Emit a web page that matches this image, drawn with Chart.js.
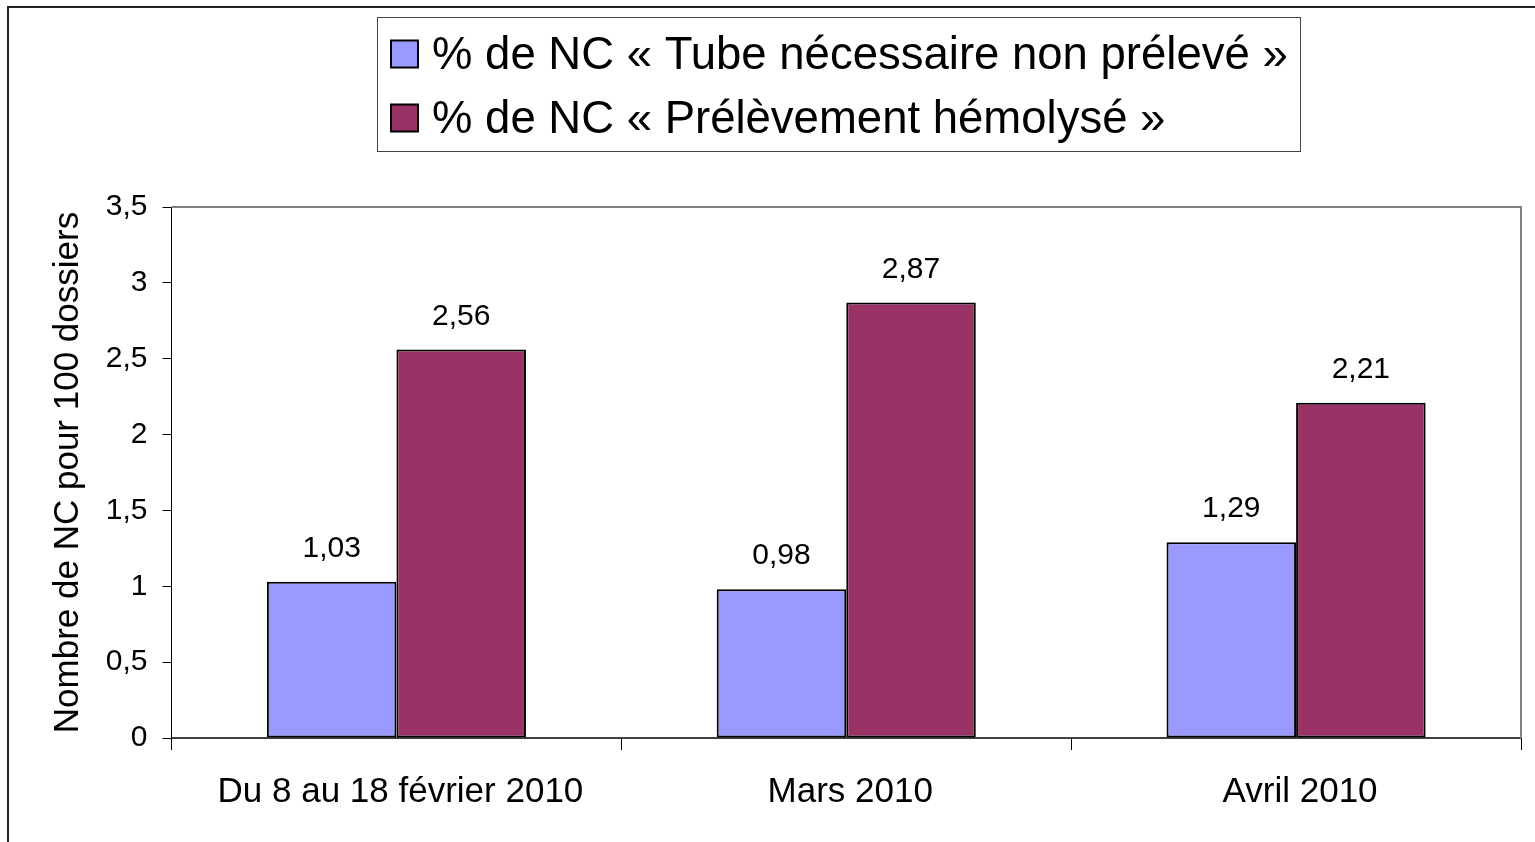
<!DOCTYPE html>
<html>
<head>
<meta charset="utf-8">
<script src="https://cdn.jsdelivr.net/npm/chart.js@4/dist/chart.umd.min.js"></script>
<style>
  html, body { margin: 0; padding: 0; background: #fff; overflow: hidden; }
  #wrap { position: absolute; left: 0; top: 0; width: 1535px; height: 842px; }
</style>
</head>
<body>
<div id="wrap"><canvas id="chart" width="1535" height="842"></canvas></div>
<script>
// Chart data
const categories = ['Du 8 au 18 février 2010', 'Mars 2010', 'Avril 2010'];
const seriesNames = ['% de NC « Tube nécessaire non prélevé »', '% de NC « Prélèvement hémolysé »'];
const tubeValues = [1.03, 0.98, 1.29];
const hemolyseValues = [2.56, 2.87, 2.21];
const yTicks = [0, 0.5, 1, 1.5, 2, 2.5, 3, 3.5];
const seriesColors = ['#9999FF', '#993366'];

const FONT = '"Liberation Sans", Arial, sans-serif';

function frNum(v) {
    return String(v).replace('.', ',');
}

// Outer frame + grey top/right plot border
const framePlugin = {
    id: 'frame',
    beforeDraw(chart) {
        const ctx = chart.ctx;
        ctx.save();
        ctx.strokeStyle = '#222';
        ctx.lineWidth = 2;
        ctx.strokeRect(8, 7, 1700, 1000);
        ctx.restore();
    },
    afterDraw(chart) {
        const a = chart.chartArea;
        const ctx = chart.ctx;
        ctx.save();
        ctx.strokeStyle = '#808080';
        ctx.lineWidth = 2;
        ctx.beginPath();
        ctx.moveTo(a.left, a.top);
        ctx.lineTo(a.right, a.top);
        ctx.lineTo(a.right, a.bottom);
        ctx.stroke();
        ctx.restore();
    }
};

// Value labels above the bars
const valueLabels = {
    id: 'valueLabels',
    afterDatasetsDraw(chart) {
        const ctx = chart.ctx;
        ctx.save();
        ctx.font = '30px ' + FONT;
        ctx.fillStyle = '#000';
        ctx.textAlign = 'center';
        ctx.textBaseline = 'alphabetic';
        chart.data.datasets.forEach((ds, i) => {
            chart.getDatasetMeta(i).data.forEach((bar, j) => {
                ctx.fillText(frNum(ds.data[j]), bar.x, bar.y - 25);
            });
        });
        ctx.restore();
    }
};

// Boxed legend, two lines, left aligned
const boxLegend = {
    id: 'boxLegend',
    afterDraw(chart) {
        const ctx = chart.ctx;
        ctx.save();
        ctx.fillStyle = '#fff';
        ctx.fillRect(377.5, 17.5, 923, 134);
        ctx.strokeStyle = '#444';
        ctx.lineWidth = 1;
        ctx.strokeRect(377.5, 17.5, 923, 134);
        ctx.font = '45.5px ' + FONT;
        ctx.textBaseline = 'middle';
        ctx.textAlign = 'left';
        chart.data.datasets.forEach((ds, i) => {
            const cy = 54 + i * 64;
            ctx.fillStyle = ds.backgroundColor;
            ctx.fillRect(391, cy - 13.5, 27, 27);
            ctx.strokeStyle = '#000';
            ctx.lineWidth = 2;
            ctx.strokeRect(391, cy - 13.5, 27, 27);
            ctx.fillStyle = '#000';
            ctx.fillText(ds.label, 432, cy + 2);
        });
        ctx.restore();
    }
};

new Chart(document.getElementById('chart'), {
    type: 'bar',
    data: {
        labels: categories,
        datasets: [
            {
                label: seriesNames[0],
                data: tubeValues,
                backgroundColor: seriesColors[0],
                borderColor: '#000',
                borderWidth: 2,
                borderSkipped: false
            },
            {
                label: seriesNames[1],
                data: hemolyseValues,
                backgroundColor: seriesColors[1],
                borderColor: '#000',
                borderWidth: 2,
                borderSkipped: false
            }
        ]
    },
    options: {
        responsive: false,
        animation: false,
        devicePixelRatio: 1,
        layout: { padding: { left: 8, top: 207, right: 14, bottom: 0 } },
        plugins: {
            legend: { display: false },
            tooltip: { enabled: false }
        },
        datasets: {
            bar: { categoryPercentage: 0.576, barPercentage: 1 }
        },
        scales: {
            x: {
                grid: {
                    offset: true,
                    drawOnChartArea: false,
                    drawTicks: true,
                    tickLength: 12,
                    color: '#000'
                },
                border: { color: '#404040', width: 2 },
                ticks: {
                    color: '#000',
                    font: { family: FONT, size: 35 },
                    padding: 21,
                    maxRotation: 0,
                    labelOffset: 4
                },
                afterFit(scale) { scale.height = 842 - 738; }
            },
            y: {
                min: 0,
                max: 3.5,
                afterBuildTicks(scale) {
                    scale.ticks = yTicks.map(v => ({ value: v }));
                },
                grid: {
                    drawOnChartArea: false,
                    drawTicks: true,
                    tickLength: 9,
                    color: '#000'
                },
                border: { color: '#000', width: 1 },
                ticks: {
                    color: '#000',
                    font: { family: FONT, size: 30 },
                    padding: 15,
                    callback: v => frNum(v)
                },
                title: {
                    display: true,
                    text: 'Nombre de NC pour 100 dossiers',
                    color: '#000',
                    font: { family: FONT, size: 35 },
                    padding: { top: 39, bottom: 0 }
                },
                afterFit(scale) { scale.width = 171.5 - 8; }
            }
        }
    },
    plugins: [framePlugin, valueLabels, boxLegend]
});
</script>
</body>
</html>
